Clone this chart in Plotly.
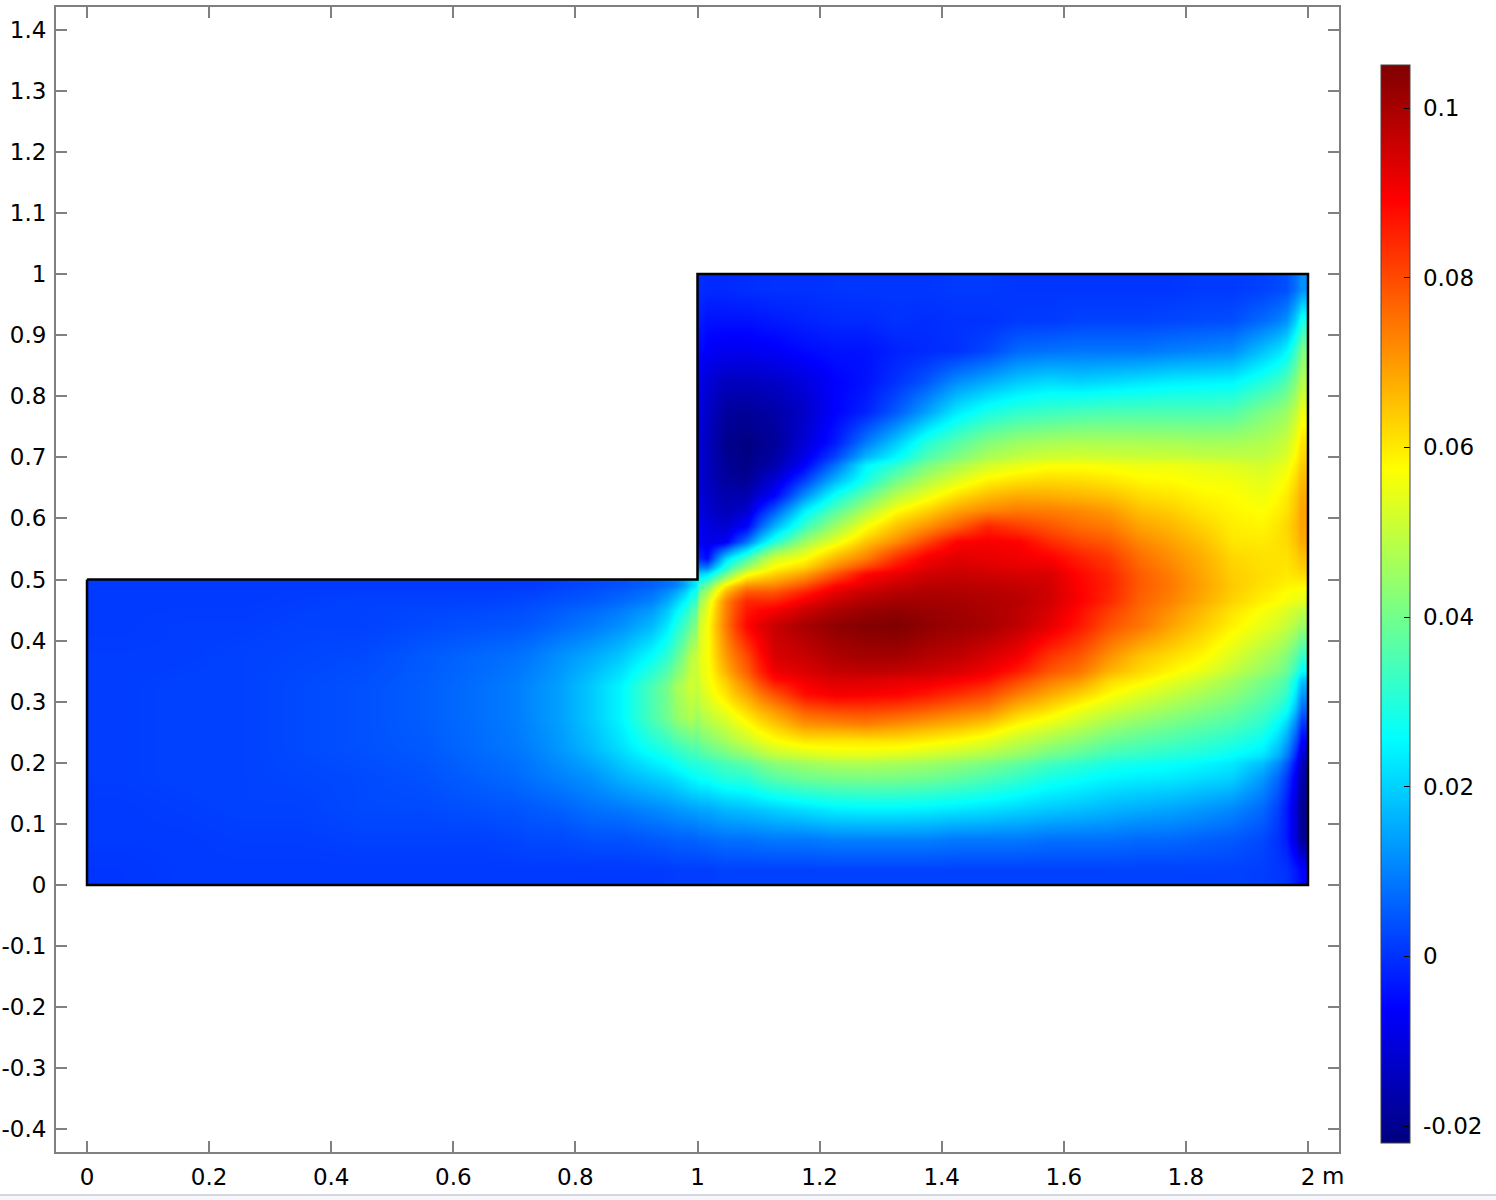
import numpy as np
import plotly.graph_objects as go

# --- cell bounds of the two rectangular blocks of the domain (metres)
left_x_bounds = [0, .1, .2, .3, .4, .5, .6, .7, .75, .8, .85, .9, .95, .98, .998, 1.002]
left_y_bounds = [0, .05, .1, .15, .2, .25, .3, .35, .4, .45, .48, .5]
right_x_bounds = [1.0, 1.002, 1.03, 1.06, 1.1, 1.15, 1.2, 1.25, 1.3, 1.35, 1.4, 1.45, 1.5, 1.55, 1.6, 1.65, 1.7, 1.75, 1.8, 1.85, 1.9, 1.95, 1.98, 2.0]
right_y_bounds = [0, .05, .1, .15, .2, .225, .25, .275, .3, .325, .35, .4, .45, .48, .5, .52, .55, .575, .6, .625, .65, .675, .7, .75, .8, .85, .9, .95, 1.0]

# --- values; one list per column, bottom to top
left_columns = [
    [.0005, .001, .001, .0015, .0015, .0015, .0015, .0015, .001, .001, .001],
    [.001, .001, .0015, .002, .002, .002, .002, .0015, .0015, .001, .001],
    [.001, .0015, .002, .002, .002, .002, .002, .002, .0015, .001, .001],
    [.001, .0015, .002, .0025, .003, .003, .003, .0025, .002, .0015, .001],
    [.001, .002, .003, .003, .004, .004, .004, .003, .002, .002, .001],
    [.001, .002, .003, .004, .005, .0055, .0055, .005, .003, .002, .001],
    [.001, .002, .004, .006, .0075, .008, .008, .007, .004, .002, .001],
    [.001, .003, .005, .008, .010, .011, .011, .009, .005, .003, .001],
    [.001, .003, .006, .010, .013, .014, .014, .012, .007, .004, .002],
    [.001, .004, .008, .012, .017, .019, .019, .015, .009, .005, .003],
    [.001, .004, .009, .016, .022, .025, .025, .019, .012, .007, .004],
    [.001, .005, .011, .019, .028, .035, .035, .026, .017, .010, .006],
    [.0015, .006, .013, .022, .033, .044, .046, .037, .029, .020, .010],
    [.0015, .006, .014, .025, .036, .048, .052, .049, .039, .030, .020],
    [.0015, .0065, .0145, .026, .0355, .044, .049, .051, .046, .036, .027],
]
right_columns = [
    [.0015, .0065, .0145, .026, .033, .038, .042, .0455, .048, .050, .051, .046, .036, .027, .018, .002, -.004, -.005, -.006, -.006, -.007, -.007, -.007, -.006, -.005, -.003, -.001, 0],
    [.0015, .007, .015, .027, .036, .042, .047, .051, .054, .056, .0565, .0565, .052, .040, .022, -.005, -.009, -.010, -.012, -.013, -.014, -.014, -.014, -.013, -.011, -.007, -.004, -.001],
    [.002, .008, .017, .030, .039, .046, .051, .0555, .0605, .064, .0695, .0735, .072, .060, .038, .020, -.008, -.012, -.015, -.016, -.018, -.019, -.020, -.018, -.014, -.008, -.004, -.001],
    [.002, .008, .018, .031, .043, .051, .0565, .0625, .0685, .0745, .080, .0885, .0845, .072, .0555, .034, .008, -.006, -.012, -.016, -.019, -.021, -.0215, -.019, -.014, -.008, -.004, -.0005],
    [.002, .009, .020, .0365, .049, .057, .064, .0705, .0788, .0882, .094, .096, .0846, .0733, .063, .052, .030, .016, .005, -.006, -.011, -.016, -.019, -.017, -.013, -.007, -.003, 0],
    [.002, .009, .022, .0393, .0515, .0608, .0706, .0783, .0877, .0915, .096, .100, .091, .080, .069, .057, .0455, .033, .024, .012, .002, -.006, -.011, -.013, -.010, -.005, -.002, 0],
    [.002, .010, .024, .0405, .0535, .0607, .0717, .0808, .0904, .094, .099, .103, .096, .0891, .0786, .0665, .0546, .0455, .0364, .0272, .017, .008, -.003, -.006, -.006, -.004, -.001, .0003],
    [.002, .010, .0245, .041, .0535, .061, .0731, .0812, .0899, .094, .1005, .1045, .099, .0935, .0885, .0733, .0646, .0565, .0473, .0382, .0285, .0245, .009, -.002, -.004, -.004, -.001, .0005],
    [.002, .010, .0245, .0405, .0525, .0612, .0711, .080, .0889, .093, .1005, .105, .1005, .096, .092, .0835, .0718, .0649, .0574, .0487, .0401, .0316, .019, .005, .000, -.002, 0, .0005],
    [.002, .010, .024, .0395, .051, .0594, .0687, .0777, .0865, .0925, .0985, .103, .1005, .098, .095, .0905, .0808, .0709, .063, .0552, .048, .0408, .030, .014, .0045, -.001, -.0005, .0005],
    [.002, .009, .023, .0375, .049, .0574, .0665, .0748, .0835, .0905, .097, .1015, .100, .098, .096, .093, .0892, .0773, .069, .0615, .0539, .0469, .0364, .0232, .0114, 0, 0, .001],
    [.002, .009, .022, .035, .0466, .0545, .0634, .0724, .080, .0877, .094, .100, .099, .0975, .095, .092, .0901, .0846, .0726, .0658, .059, .0521, .0419, .0285, .0152, .0026, 0, .001],
    [.002, .009, .0205, .032, .0435, .0501, .0575, .0653, .0735, .0812, .0905, .097, .098, .0965, .094, .091, .0892, .0815, .0741, .068, .0613, .0548, .045, .0315, .019, .007, .001, .0005],
    [.002, .008, .019, .0285, .0393, .0465, .0538, .061, .0682, .0749, .0828, .0925, .095, .095, .094, .0895, .0841, .0787, .0735, .0677, .0623, .0569, .0465, .033, .021, .008, .001, .0005],
    [.002, .008, .018, .0265, .0365, .043, .0498, .0555, .0633, .071, .0784, .0865, .0895, .0892, .0885, .0855, .0803, .0757, .0721, .0664, .0618, .057, .0472, .0342, .0199, .0085, .002, .0005],
    [.002, .008, .0165, .0245, .033, .0392, .0453, .0515, .0575, .0628, .0709, .079, .0842, .085, .0845, .082, .078, .0738, .070, .065, .0605, .0563, .0469, .0349, .021, .0085, .002, .0005],
    [.002, .007, .0155, .0235, .0315, .037, .0424, .048, .0535, .0595, .0648, .0745, .077, .078, .0775, .0755, .0723, .0688, .0654, .0619, .0584, .0553, .0468, .035, .0222, .0085, .002, .0005],
    [.002, .007, .0145, .023, .030, .035, .040, .045, .050, .0553, .0615, .069, .073, .074, .0735, .0715, .069, .0665, .0635, .0605, .0578, .0555, .0465, .035, .0235, .0095, .0025, .0005],
    [.002, .006, .013, .0215, .0285, .033, .0375, .042, .0465, .0515, .0583, .064, .068, .069, .0685, .0675, .0655, .063, .0605, .0585, .0565, .0545, .046, .035, .024, .0105, .003, .001],
    [.002, .005, .011, .020, .026, .0305, .035, .039, .043, .0465, .053, .059, .063, .064, .0635, .0625, .0605, .0595, .0585, .0575, .056, .0535, .046, .0355, .0245, .0115, .0035, .001],
    [.0015, .003, .007, .013, .0225, .027, .031, .0345, .038, .0415, .0475, .0545, .059, .061, .0615, .061, .060, .0585, .0572, .0555, .054, .052, .0475, .041, .0295, .018, .007, .002],
    [0, -.003, -.003, .001, .0095, .0145, .020, .027, .032, .0355, .042, .050, .056, .0585, .060, .061, .062, .0625, .061, .060, .058, .0555, .051, .045, .036, .025, .012, .004],
    [-.006, -.019, -.020, -.017, -.012, -.006, 0, .0065, .0125, .019, .032, .045, .054, .058, .062, .065, .068, .069, .069, .068, .066, .064, .061, .055, .048, .041, .028, .012],
]

# --- domain outline
outline_x = [0, 1, 1, 2, 2, 0, 0]
outline_y = [.5, .5, 1, 1, 0, 0, .5]

# --- axes and colour bar labels
x_tick_values = [0, .2, .4, .6, .8, 1, 1.2, 1.4, 1.6, 1.8, 2]
x_tick_labels = ["0", "0.2", "0.4", "0.6", "0.8", "1", "1.2", "1.4", "1.6", "1.8", "2"]
y_tick_values = [-.4, -.3, -.2, -.1, 0, .1, .2, .3, .4, .5, .6, .7, .8, .9, 1, 1.1, 1.2, 1.3, 1.4]
y_tick_labels = ["-0.4", "-0.3", "-0.2", "-0.1", "0", "0.1", "0.2", "0.3", "0.4", "0.5", "0.6", "0.7", "0.8", "0.9", "1", "1.1", "1.2", "1.3", "1.4"]
bar_tick_values = [-.02, 0, .02, .04, .06, .08, .1]
bar_tick_labels = ["-0.02", "0", "0.02", "0.04", "0.06", "0.08", "0.1"]
value_min, value_max = -.022, .10507

jet = [
    [0, "#00007f"], [.125, "#0000ff"], [.375, "#00ffff"],
    [.625, "#ffff00"], [.875, "#ff0000"], [1, "#7f0000"],
]

FONT = dict(family="DejaVu Sans", size=23, color="black")

fig = go.Figure()
fig.add_trace(go.Heatmap(x=left_x_bounds, y=left_y_bounds, z=np.array(left_columns).T.tolist(),
                         zsmooth="best", coloraxis="coloraxis", hoverinfo="skip"))
fig.add_trace(go.Heatmap(x=right_x_bounds, y=right_y_bounds, z=np.array(right_columns).T.tolist(),
                         zsmooth="best", coloraxis="coloraxis", hoverinfo="skip"))
fig.add_trace(go.Scatter(x=outline_x, y=outline_y, mode="lines", hoverinfo="skip",
                         line=dict(color="black", width=2.5), showlegend=False))

axis = dict(showgrid=False, zeroline=False, showline=True, linecolor="#808080", linewidth=2,
            mirror="ticks", ticks="inside", ticklen=11, tickwidth=2, tickcolor="#808080",
            tickfont=FONT, tickmode="array", ticklabelstandoff=3, automargin=False)
fig.update_xaxes(range=[-.0508, 2.0508], tickvals=x_tick_values, ticktext=x_tick_labels, **axis)
fig.update_yaxes(range=[-.437, 1.437], tickvals=y_tick_values, ticktext=y_tick_labels, **axis)

fig.update_layout(
    width=1496, height=1200, margin=dict(l=56, r=157, t=7, b=48),
    paper_bgcolor="white", plot_bgcolor="white", showlegend=False,
    coloraxis=dict(
        cmin=value_min, cmax=value_max, colorscale=jet,
        colorbar=dict(
            x=(1381 - 56) / 1283, xanchor="left", xpad=0,
            y=(1152 - 65) / 1145, yanchor="top", ypad=0,
            lenmode="pixels", len=1078, thicknessmode="pixels", thickness=29,
            outlinecolor="#444444", outlinewidth=1,
            ticks="inside", ticklen=6, tickcolor="black", tickwidth=1,
            tickmode="array", tickvals=bar_tick_values,
            ticktext=["\u00a0" + label for label in bar_tick_labels],
            tickfont=FONT,
        ),
    ),
    annotations=[dict(text="m", xref="paper", yref="paper", x=(1333 - 56) / 1283, y=-24 / 1145,
                      xanchor="center", yanchor="middle", showarrow=False, font=FONT)],
    shapes=[
        dict(type="rect", xref="paper", yref="paper", x0=-56 / 1283, x1=1440 / 1283, y0=-42 / 1145, y1=-44 / 1145,
             line=dict(width=0), fillcolor="#d6d6e0"),
        dict(type="rect", xref="paper", yref="paper", x0=-56 / 1283, x1=1440 / 1283, y0=-44 / 1145, y1=-48 / 1145,
             line=dict(width=0), fillcolor="#f6f7fb"),
    ],
)
fig.write_html("out.html", config={"displayModeBar": False}, post_script="document.body.style.margin='0';")
